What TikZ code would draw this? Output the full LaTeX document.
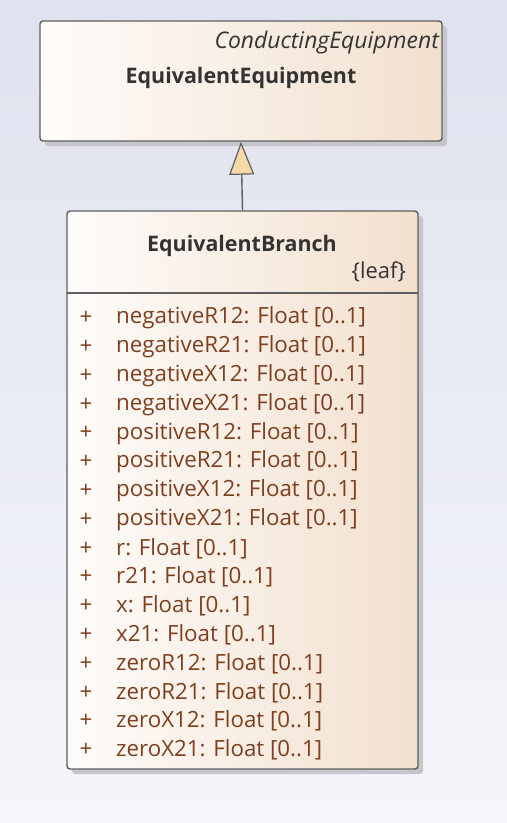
\documentclass[tikz,border=0pt]{standalone}
\usepackage{fontspec}
\setmainfont{Open Sans}
\usetikzlibrary{arrows.meta,shadows}
\definecolor{bgtop}{HTML}{DFE2EF}
\definecolor{bgbot}{HTML}{F5F6FA}
\definecolor{boxl}{HTML}{FEFCFA}
\definecolor{boxm}{HTML}{FAF3EC}
\definecolor{boxr}{HTML}{F2E0CE}
\definecolor{frame}{HTML}{5E5E5E}
\definecolor{shadowc}{HTML}{C5C6CC}
\definecolor{attrc}{HTML}{7F3F1F}
\definecolor{titlec}{HTML}{333333}
\definecolor{trifill}{HTML}{F7D9A8}
\tikzset{
  umlbox/.style={draw=frame, line width=1.4bp, rounded corners=3bp,
    left color=boxl, middle color=boxm, right color=boxr, shading angle=90,
    inner sep=0pt},
  boxshadow/.style={fill=shadowc, rounded corners=3bp},
  titletext/.style={font=\fontsize{21.5}{24}\selectfont\bfseries, text=titlec, inner sep=0pt},
  stereo/.style={font=\fontsize{23}{24}\selectfont\itshape, text=titlec, inner sep=0pt},
  leaftext/.style={font=\fontsize{22}{24}\selectfont, text=titlec, inner sep=0pt},
  attr/.style={font=\fontsize{22.4}{24}\selectfont, text=attrc, inner sep=0pt, anchor=west},
  plus/.style={font=\fontsize{22.4}{24}\selectfont, text=attrc, inner sep=0pt},
  genline/.style={draw=frame, line width=1.4bp,
    -{Triangle[length=33bp,width=25bp,fill=trifill,line width=1.2bp]}}
}
\begin{document}
\begin{tikzpicture}[x=1bp,y=-1bp]
\useasboundingbox (0,0) rectangle (507,823);
\shade[top color=bgtop, bottom color=bgbot] (0,0) rectangle (507,823);
% shadows
\fill[boxshadow] (45,26) rectangle (447,146);
\fill[boxshadow] (72,216) rectangle (423,774);
% boxes
\node[umlbox, minimum width=402bp, minimum height=120bp] (ee) at (241,81) {};
\node[umlbox, minimum width=351bp, minimum height=558bp] (eb) at (242.5,490) {};
\node[stereo, anchor=east] (eest) at (439,43) {ConductingEquipment};
\node[titletext] (eet) at (241,78) {EquivalentEquipment};
\node[titletext] (ebt) at (242,246) {EquivalentBranch};
\node[leaftext, anchor=east] (leaf) at (406,272) {\{leaf\}};
\coordinate (sepl) at (67,293);
\coordinate (sepr) at (418,293);
\draw[frame, line width=1.2bp] (sepl) -- (sepr);
\foreach \i/\t in {0/negativeR12,1/negativeR21,2/negativeX12,3/negativeX21,
  4/positiveR12,5/positiveR21,6/positiveX12,7/positiveX21,
  8/r,9/r21,10/x,11/x21,12/zeroR12,13/zeroR21,14/zeroX12,15/zeroX21}{
  \node[plus] (p\i) at (86,{318+28.8*\i}) {+};
  \node[attr] (a\i) at (116,{318+28.8*\i}) {\t: Float [0..1]};
}
\draw[genline] (eb.north) -- (ee.south);
\end{tikzpicture}
\end{document}
